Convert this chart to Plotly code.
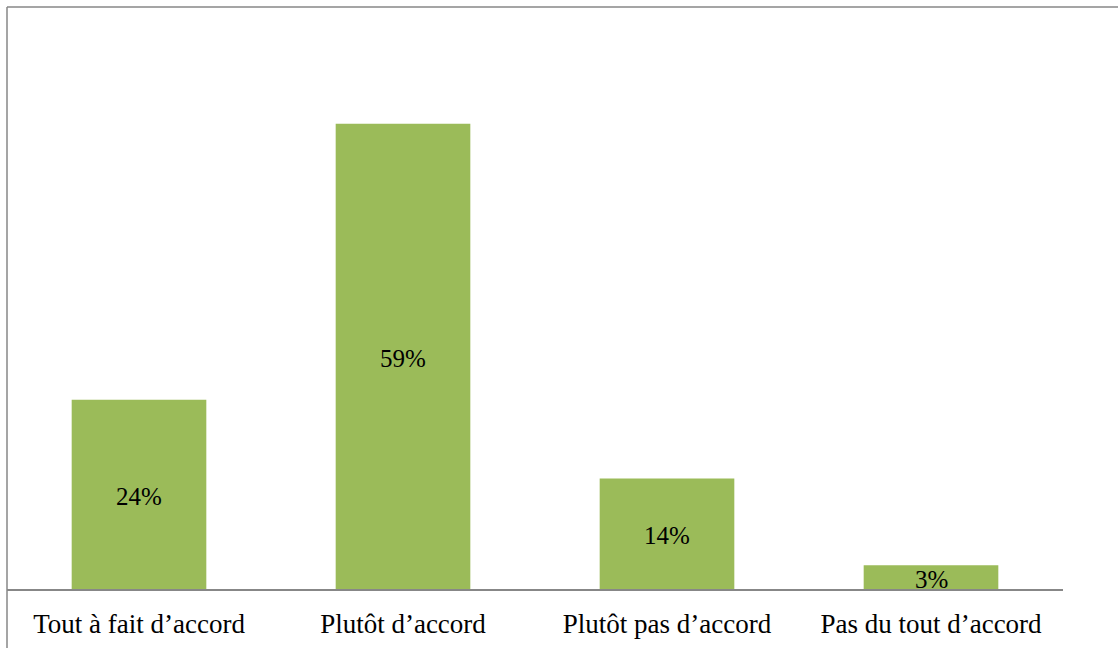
import plotly.graph_objects as go

categories = ["Tout à fait d’accord", "Plutôt d’accord", "Plutôt pas d’accord", "Pas du tout d’accord"]
values = [24, 59, 14, 3]
labels = ["24%", "59%", "14%", "3%"]

W, H = 1118, 648
ml, mr, mt, mb = 7, 55, 7, 59
ph = H - mt - mb
pw = W - ml - mr

FONT = "Liberation Serif, Times New Roman, Times, DejaVu Serif, serif"

fig = go.Figure()
fig.add_trace(go.Bar(
    x=categories, y=values,
    marker=dict(color="#9BBB59", line=dict(width=0)),
    hoverinfo="skip",
))

for c, v, t in zip(categories, values, labels):
    fig.add_annotation(x=c, y=v / 2, text=t, showarrow=False,
                       xanchor="center", yanchor="middle", yshift=-2,
                       font=dict(family=FONT, size=25, color="#000000"))

line_col = "#878787"
fig.add_shape(type="line", xref="paper", yref="paper",
              x0=0, x1=(W - ml) / pw, y0=1, y1=1,
              line=dict(color=line_col, width=1.5))
fig.add_shape(type="line", xref="paper", yref="paper",
              x0=0, x1=0, y0=1, y1=-mb / ph,
              line=dict(color=line_col, width=1.5))

fig.update_layout(
    width=W, height=H,
    margin=dict(l=ml, r=mr, t=mt, b=mb),
    paper_bgcolor="white", plot_bgcolor="white",
    bargap=0.49,
    showlegend=False,
    font=dict(family=FONT, color="#000000"),
)
fig.update_xaxes(showline=True, linecolor=line_col, linewidth=1.5,
                 ticks="", showgrid=False, ticklabelstandoff=10,
                 tickfont=dict(family=FONT, size=27, color="#000000"))
fig.update_yaxes(range=[0, 73.8], showgrid=False, zeroline=False,
                 showticklabels=False, ticks="", showline=False)

fig.write_html("out.html", config={"displayModeBar": False},
               post_script="document.body.style.margin='0';document.body.style.overflow='hidden';")
